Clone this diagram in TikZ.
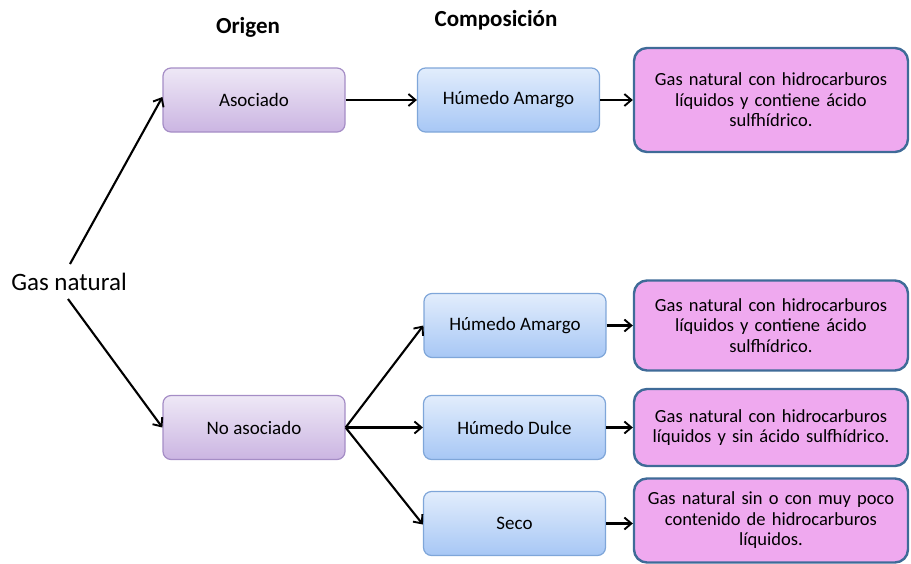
\documentclass[tikz,border=0pt]{standalone}
\usepackage{fontspec}
\setmainfont{Carlito}
\usetikzlibrary{arrows.meta,shadings}
\definecolor{orTop}{HTML}{EEE8F6}
\definecolor{orBot}{HTML}{CBB5E2}
\definecolor{orLine}{HTML}{A58DC6}
\definecolor{cpTop}{HTML}{E2EDFC}
\definecolor{cpBot}{HTML}{A7C7F5}
\definecolor{cpLine}{HTML}{7FA6D9}
\definecolor{dsFill}{HTML}{EFA9EF}
\definecolor{dsLine}{HTML}{3F6B98}
\begin{document}
\begin{tikzpicture}[x=1pt,y=-1pt,
  every node/.style={font=\fontsize{19}{21}\selectfont},
  origin/.style={draw=orLine, line width=1.2pt, rounded corners=8pt,
    top color=orTop, bottom color=orBot,
    minimum width=182pt, minimum height=64pt, inner sep=0pt},
  comp/.style={draw=cpLine, line width=1.2pt, rounded corners=8pt,
    top color=cpTop, bottom color=cpBot,
    minimum width=182pt, minimum height=64pt, inner sep=0pt},
  desc/.style={draw=dsLine, line width=2.4pt, rounded corners=13pt,
    fill=dsFill, minimum width=274pt,
    text width=268pt, align=center, inner sep=0pt,
    font=\fontsize{18.5}{20.5}\selectfont},
  head/.style={font=\fontsize{23}{25}\selectfont\bfseries},
  link/.style={-{Straight Barb[length=7pt,width=12pt,line width=1.9pt]}, line width=2.1pt}]
\useasboundingbox (0,0) rectangle (911,563);

% column headings
\node[head] (hOrigen) at (248,27) {Origen};
\node[head] (hComp) at (496,20) {Composición};

% root label
\node[font=\fontsize{25}{27}\selectfont, inner sep=0pt] (gas) at (69,282) {Gas natural};
\coordinate (gasT) at (70,264);
\coordinate (gasB) at (68,299);

% origin boxes
\node[origin] (aso) at (254,100) {Asociado};
\node[origin] (noaso) at (254,427.5) {No asociado};

% composition boxes
\node[comp] (ha1) at (508.5,100) {Húmedo Amargo};
\node[comp] (ha2) at (515,325.5) {Húmedo Amargo};
\node[comp] (hd) at (514.5,427.5) {Húmedo Dulce};
\node[comp] (seco) at (514.5,523.5) {Seco};

% descriptions
\node[desc, minimum height=104pt] (d1) at (771,100)
  {Gas natural con hidrocarburos\\ líquidos y contiene ácido\\ sulfhídrico.};
\node[desc, minimum height=90pt] (d2) at (771,325.5)
  {Gas natural con hidrocarburos\\ líquidos y contiene ácido\\ sulfhídrico.};
\node[desc, minimum height=77pt] (d3) at (771,427.5)
  {Gas natural con hidrocarburos\\ líquidos y sin ácido sulfhídrico.};
\node[desc, minimum height=84pt] (d4) at (771,520.5)
  {Gas natural sin o con muy poco\\ contenido de hidrocarburos\\ líquidos.};

% connectors
\draw[link] (gasT) -- ([yshift=3pt]aso.west);
\draw[link] (gasB) -- (noaso.west);
\draw[link] (aso.east) -- (ha1.west);
\draw[link] (noaso.east) -- (ha2.west);
\draw[link] (noaso.east) -- (hd.west);
\draw[link] (noaso.east) -- ([yshift=-1pt]seco.west);
\draw[link] (ha1.east) -- (d1.west);
\draw[link] (ha2.east) -- (d2.west);
\draw[link] (hd.east) -- (d3.west);
\draw[link] (seco.east) -- (seco.east -| d4.west);
\end{tikzpicture}
\end{document}
